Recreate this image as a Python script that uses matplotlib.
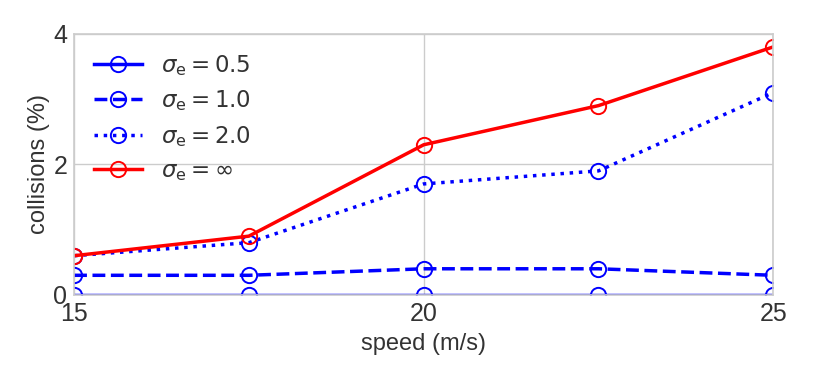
import matplotlib
matplotlib.use("Agg")
import matplotlib.pyplot as plt

speeds = [15, 17.5, 20, 22.5, 25]
sigma_05 = [0, 0, 0, 0, 0]
sigma_10 = [0.3, 0.3, 0.4, 0.4, 0.3]
sigma_20 = [0.6, 0.8, 1.7, 1.9, 3.1]
sigma_inf = [0.6, 0.9, 2.3, 2.9, 3.8]
labels = [r"$\sigma_\mathrm{e} = 0.5$", r"$\sigma_\mathrm{e} = 1.0$",
          r"$\sigma_\mathrm{e} = 2.0$", r"$\sigma_\mathrm{e} = \infty$"]

plt.rcParams['font.family'] = ['Liberation Sans', 'DejaVu Sans']
plt.rcParams['mathtext.fontset'] = 'dejavusans'
txt = '#333333'

fig = plt.figure(figsize=(8.14, 3.8), dpi=100)
ax = fig.add_axes([0.091, 0.224, 0.859, 0.687])

common = dict(marker='o', markersize=11, markerfacecolor='none', linewidth=2.5, markeredgewidth=1.4)
ax.plot(speeds, sigma_05, color='blue', linestyle='-', label=labels[0], **common)
ax.plot(speeds, sigma_10, color='blue', linestyle='--', label=labels[1], **common)
ax.plot(speeds, sigma_20, color='blue', linestyle=':', label=labels[2], **common)
ax.plot(speeds, sigma_inf, color='red', linestyle='-', label=labels[3], **common)

ax.set_xlim(15, 25)
ax.set_ylim(0, 4)
ax.set_xticks([15, 20, 25])
ax.set_yticks([0, 2, 4])
ax.grid(True, color='#cccccc', linewidth=1)
ax.set_axisbelow(True)
for s in ax.spines.values():
    s.set_color('#cccccc')
    s.set_linewidth(1.2)
ax.tick_params(length=0, labelsize=18, colors=txt, pad=5)
ax.set_xlabel('speed (m/s)', fontsize=17, color=txt, labelpad=5)
ax.set_ylabel('collisions (%)', fontsize=17, color=txt, labelpad=2)

leg = ax.legend(loc='upper left', frameon=False, fontsize=16.5, handlelength=2.1,
                labelspacing=0.45, borderaxespad=0.45, handletextpad=0.85)
for t in leg.get_texts():
    t.set_color(txt)

fig.savefig('out.png', dpi=100)
